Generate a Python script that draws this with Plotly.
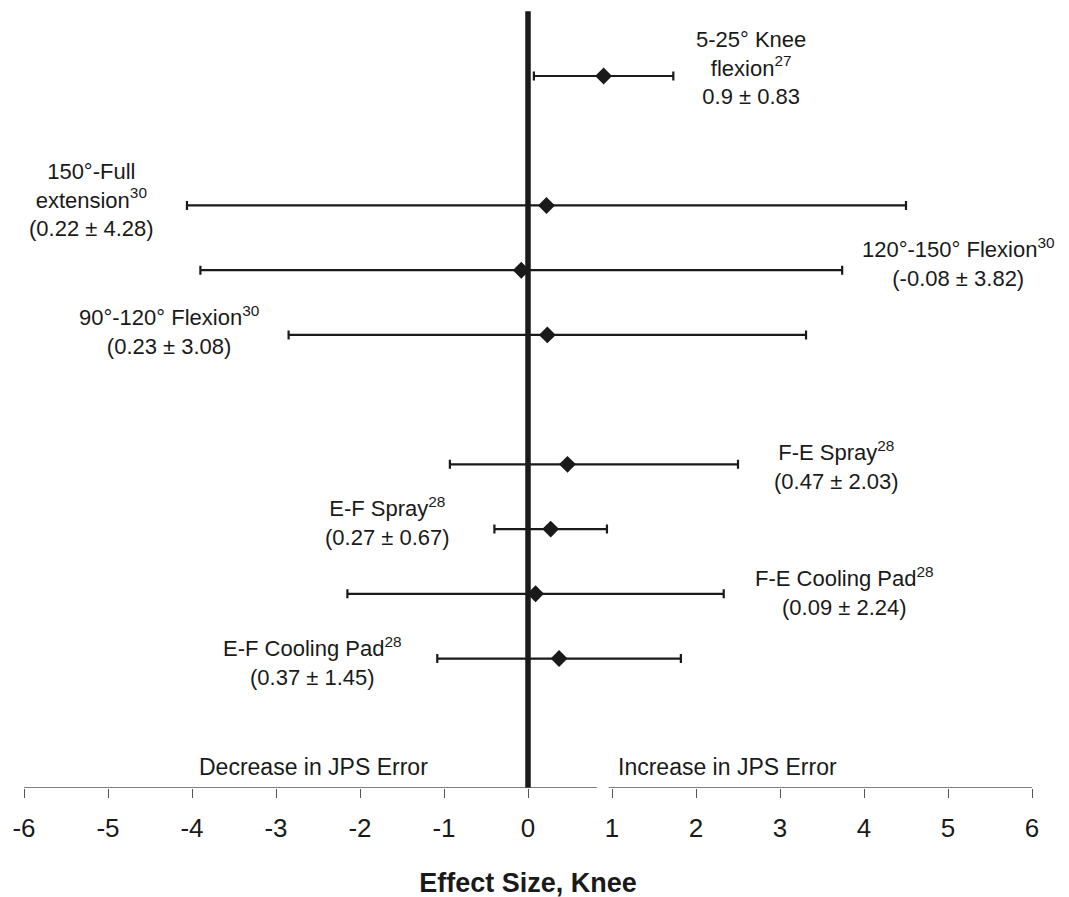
import plotly.graph_objects as go

# ---- data ----
names = ["5-25° Knee<br>flexion<sup>27</sup>", "150°-Full<br>extension<sup>30</sup>",
         "120°-150° Flexion<sup>30</sup>", "90°-120° Flexion<sup>30</sup>",
         "F-E Spray<sup>28</sup>", "E-F Spray<sup>28</sup>",
         "F-E Cooling Pad<sup>28</sup>", "E-F Cooling Pad<sup>28</sup>"]
value_text = ["0.9 ± 0.83", "(0.22 ± 4.28)", "(-0.08 ± 3.82)", "(0.23 ± 3.08)",
              "(0.47 ± 2.03)", "(0.27 ± 0.67)", "(0.09 ± 2.24)", "(0.37 ± 1.45)"]
effect = [0.9, 0.22, -0.08, 0.23, 0.47, 0.27, 0.09, 0.37]
err_plus = [0.83, 4.28, 3.82, 3.08, 2.03, 0.67, 2.24, 1.45]
err_minus = [0.83, 4.28, 3.82, 3.08, 1.40, 0.67, 2.24, 1.45]
row = [0, 2, 3, 4, 6, 7, 8, 9]
tick_vals = [-6, -5, -4, -3, -2, -1, 0, 1, 2, 3, 4, 5, 6]
tick_text = ["-6", "-5", "-4", "-3", "-2", "-1", "0", "1", "2", "3", "4", "5", "6"]

# label placement (layout, data coords)
label_x = [2.65, -5.2, 5.12, -4.27, 3.67, -1.67, 3.77, -2.56]
label_y = [-0.12, 1.91, 2.88, 3.93, 6.02, 6.88, 7.96, 9.04]

INK = "#1a1a1a"
FONT = "Liberation Sans, Arial, Helvetica, sans-serif"

fig = go.Figure()
fig.add_trace(go.Scatter(
    x=effect, y=row, mode="markers",
    marker=dict(symbol="diamond", size=13, color=INK),
    error_x=dict(type="data", symmetric=False, array=err_plus, arrayminus=err_minus,
                 color=INK, thickness=2.2, width=4.5),
    showlegend=False, hoverinfo="skip"))

for n, v, lx, ly in zip(names, value_text, label_x, label_y):
    fig.add_annotation(x=lx, y=ly, xref="x", yref="y", text=n + "<br>" + v,
                       showarrow=False, align="center",
                       font=dict(family=FONT, size=22, color=INK))

fig.add_annotation(x=-2.55, y=10.68, xref="x", yref="y", text="Decrease in JPS Error",
                   showarrow=False, font=dict(family=FONT, size=23, color=INK))
fig.add_annotation(x=2.37, y=10.68, xref="x", yref="y", text="Increase in JPS Error",
                   showarrow=False, font=dict(family=FONT, size=23, color=INK))

# broken axis line
fig.add_shape(type="line", xref="x", yref="y", x0=-6, x1=0.82, y0=11, y1=11,
              line=dict(color="#555555", width=1.5))
fig.add_shape(type="line", xref="x", yref="y", x0=0.96, x1=6, y0=11, y1=11,
              line=dict(color="#555555", width=1.5))
# zero line
fig.add_shape(type="line", xref="x", yref="y", x0=0, x1=0, y0=-1.0, y1=11,
              line=dict(color=INK, width=5.5), layer="below")

fig.update_layout(
    width=1069, height=897,
    margin=dict(l=16, r=45, t=2, b=117),
    plot_bgcolor="white", paper_bgcolor="white",
    xaxis=dict(range=[-6, 6], tickvals=tick_vals, ticktext=tick_text,
               showgrid=False, zeroline=False, showline=False,
               ticks="outside", ticklen=9, tickwidth=1, tickcolor="#555555",
               ticklabelstandoff=8,
               tickfont=dict(family=FONT, size=26, color=INK),
               title=dict(text="<b>Effect Size, Knee</b>", standoff=30,
                          font=dict(family=FONT, size=27, color=INK))),
    yaxis=dict(range=[11, -1.02], visible=False, showgrid=False, zeroline=False),
)

fig.write_html("out.html")
